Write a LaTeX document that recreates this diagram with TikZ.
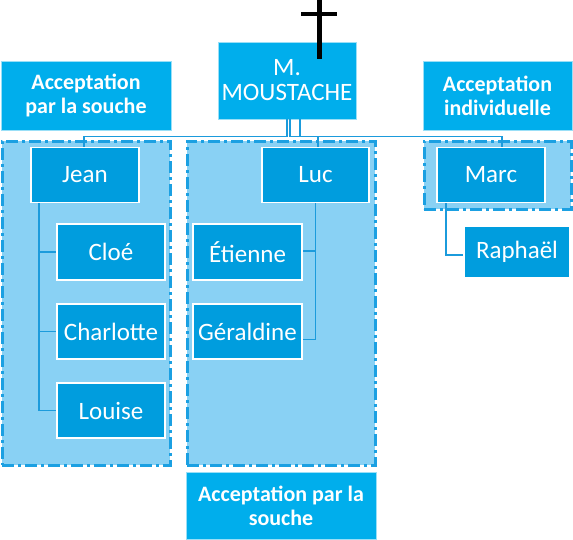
\documentclass[tikz,border=0pt]{standalone}
\usepackage{fontspec}
\setmainfont{Carlito}
\definecolor{cyanbox}{RGB}{0,174,236}
\definecolor{darkbox}{RGB}{0,157,222}
\definecolor{grpfill}{RGB}{137,209,244}
\definecolor{grpline}{RGB}{27,160,226}
\definecolor{connc}{RGB}{27,155,220}
\tikzset{
  labelbox/.style={rectangle, fill=cyanbox, draw=white!60!cyanbox, line width=0.8pt, text=white, align=center, inner sep=0pt,
     font=\fontsize{22}{24}\selectfont\bfseries},
  namebox/.style={rectangle, fill=darkbox, draw=white, line width=1.2pt, text=white, align=center, inner sep=0pt,
     minimum width=108pt, minimum height=55pt, font=\fontsize{25}{27}\selectfont},
  topbox/.style={rectangle, fill=cyanbox, draw=white!60!cyanbox, line width=0.8pt, text=white, align=center, inner sep=0pt,
     font=\fontsize{25}{25}\selectfont},
  grpbox/.style={rectangle, fill=grpfill, draw=grpline, line width=3pt, inner sep=0pt,
     dash pattern=on 12pt off 4pt on 3pt off 4pt},
  conn/.style={draw=connc, line width=1.3pt},
}
\begin{document}
\begin{tikzpicture}[x=1pt,y=-1pt]
\useasboundingbox (0,0) rectangle (573,539);
% groups
\node[grpbox, minimum width=168pt, minimum height=324pt] (grpL) at (86,303) {};
\node[grpbox, minimum width=188pt, minimum height=324pt] (grpM) at (281,303) {};
\node[grpbox, minimum width=147pt, minimum height=68pt] (grpR) at (497.5,175) {};
% label boxes
\node[labelbox, minimum width=170pt, minimum height=69pt] (accL) at (86,95.5) {Acceptation\\par la souche};
\node[labelbox, minimum width=149pt, minimum height=69pt] (accR) at (497.5,95.5) {Acceptation\\individuelle};
\node[labelbox, minimum width=190pt, minimum height=67pt] (accB) at (281,505.5) {Acceptation par la\\souche};
% top
\node[topbox, minimum width=138pt, minimum height=77pt] (moustache) at (287,80.5) {M.\\MOUSTACHE};
% names
\node[namebox] (jean) at (85,175) {Jean};
\node[namebox, minimum width=107pt] (luc) at (315.5,175) {Luc};
\node[namebox] (marc) at (491,175) {Marc};
\node[namebox, minimum width=106pt, minimum height=52pt] (raphael) at (517,252) {Raphaël};
\node[namebox, minimum height=56pt] (cloe) at (111,252) {Cloé};
\node[namebox] (charlotte) at (111,331.5) {Charlotte};
\node[namebox] (louise) at (111,410.5) {Louise};
\node[namebox, minimum width=109pt, minimum height=56pt] (etienne) at (247.5,252) {Étienne};
\node[namebox, minimum width=109pt] (geraldine) at (247.5,331.5) {Géraldine};
% connectors
\draw[conn] (moustache.south) -- ++(0,17) -| ([xshift=-1pt]jean.north);
\draw[conn] ([xshift=3pt]moustache.south) -- ++(0,17) -| ([xshift=2.5pt]luc.north);
\draw[conn] ([xshift=13pt]moustache.south) -- ++(0,17) -| ([xshift=11pt]marc.north);
\draw[conn] ([xshift=-46pt]jean.south) |- (cloe.west);
\draw[conn] ([xshift=-46pt]jean.south) |- (charlotte.west);
\draw[conn] ([xshift=-46pt]jean.south) |- (louise.west);
\draw[conn] (luc.south) |- ([yshift=1pt]etienne.east);
\draw[conn] (luc.south) |- ([yshift=-8pt]geraldine.east);
\draw[conn] ([xshift=-45pt]marc.south) |- ([yshift=-3pt]raphael.west);
% cross
\draw[line width=5pt, black] (319,0) -- (319,59);
\draw[line width=4pt, black] (301,14) -- (337,14);
\end{tikzpicture}
\end{document}
